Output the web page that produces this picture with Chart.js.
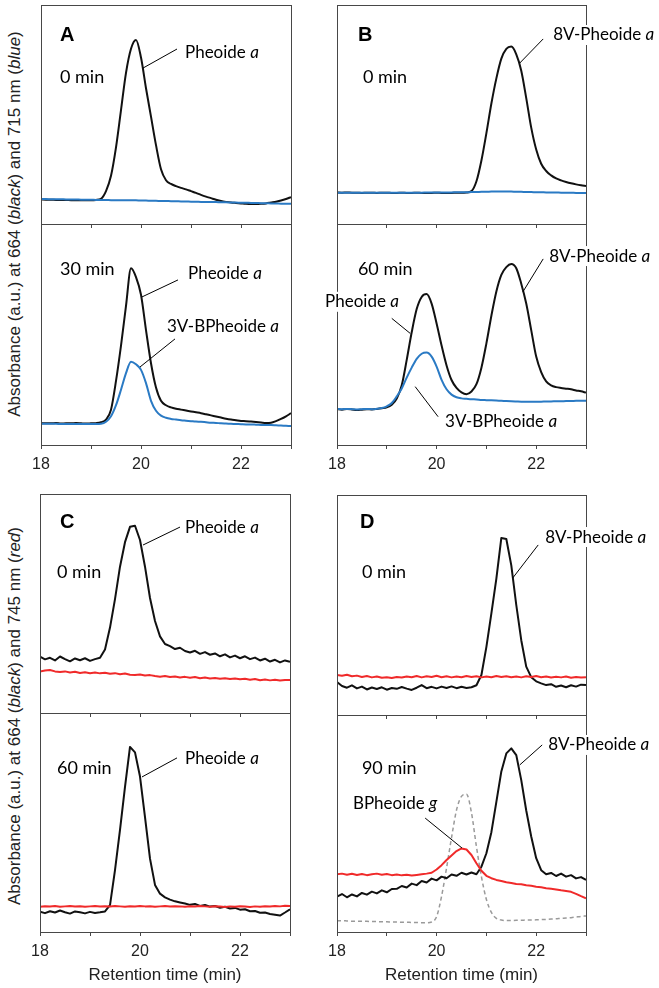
<!DOCTYPE html>
<html>
<head>
<meta charset="utf-8">
<script src="https://cdn.jsdelivr.net/npm/chart.js@4.4.1/dist/chart.umd.min.js"></script>
<style>
    body { margin: 0; background: #fff; }
    #page { position: relative; width: 659px; height: 988px; overflow: hidden; background: #fff; }
    #page canvas { position: absolute; }
    .ytitle {
        position: absolute;
        font: 17px "Liberation Sans", Arial, sans-serif;
        color: #222;
        white-space: nowrap;
        transform: translate(-50%, -50%) rotate(-90deg);
    }
</style>
</head>
<body>
<div id="page">
    <div class="ytitle" style="left:15px; top:224px">Absorbance (a.u.) at 664 (<i>black</i>) and 715 nm (<i>blue</i>)</div>
    <div class="ytitle" style="left:15px; top:716px">Absorbance (a.u.) at 664 (<i>black</i>) and 745 nm (<i>red</i>)</div>
</div>
<script>

// retention time (min)
const time = [
    18.0, 18.1, 18.2, 18.3, 18.4, 18.5, 18.6, 18.7, 18.8, 18.9,
    19.0, 19.1, 19.2, 19.3, 19.4, 19.5, 19.6, 19.7, 19.8, 19.9,
    20.0, 20.1, 20.2, 20.3, 20.4, 20.5, 20.6, 20.7, 20.8, 20.9,
    21.0, 21.1, 21.2, 21.3, 21.4, 21.5, 21.6, 21.7, 21.8, 21.9,
    22.0, 22.1, 22.2, 22.3, 22.4, 22.5, 22.6, 22.7, 22.8, 22.9,
    23.0
];
const xTickLabels = [18, 20, 22];

// A: 0 min / 30 min
const aTop664 = [
    11.2, 11.1, 11.1, 11.0, 11.0, 11.0, 10.9, 10.9, 10.9, 10.9,
    10.9, 11.0, 11.5, 15, 22, 35, 52, 69, 80, 84,
    76, 62, 49, 36, 25, 20, 18.3, 17.3, 16.5, 15.8,
    15, 14.2, 13.3, 12.5, 11.8, 11.1, 10.5, 10.1, 9.8, 9.6,
    9.4, 9.2, 9.1, 9.1, 9.2, 9.4, 9.8, 10.2, 10.7, 11.4,
    12.3
];
const aTop715 = [
    11.4, 11.4, 11.3, 11.3, 11.3, 11.2, 11.2, 11.2, 11.1, 11.1,
    11.1, 11.0, 11.0, 11.0, 10.9, 10.9, 10.9, 10.8, 10.8, 10.8,
    10.7, 10.7, 10.6, 10.6, 10.5, 10.5, 10.4, 10.4, 10.3, 10.3,
    10.2, 10.2, 10.1, 10.1, 10.0, 10.0, 9.9, 9.9, 9.8, 9.8,
    9.7, 9.7, 9.6, 9.6, 9.5, 9.5, 9.4, 9.4, 9.3, 9.3,
    9.2
];
const aBot664 = [
    9.9, 9.8, 9.8, 9.9, 9.7, 9.8, 9.8, 9.9, 9.8, 9.7,
    9.8, 9.9, 10.3, 11.5, 16, 29, 45, 63, 80, 76,
    68, 52, 37, 26, 20, 18, 17, 16.4, 16, 15.6,
    15.2, 14.8, 14.4, 13.9, 13.4, 12.9, 12.4, 11.9, 11.5, 11.2,
    10.9, 10.8, 10.6, 10.4, 10.2, 10.0, 10.1, 10.8, 11.8, 13,
    14.4
];
const aBot715 = [
    9.6, 9.6, 9.6, 9.6, 9.5, 9.5, 9.5, 9.5, 9.5, 9.5,
    9.5, 9.5, 9.6, 10.5, 13, 18, 25, 32.5, 37.7, 36.5,
    34, 28, 20, 15.5, 13.3, 12.3, 11.8, 11.5, 11.2, 11,
    10.8, 10.6, 10.5, 10.3, 10.1, 10, 9.8, 9.7, 9.6, 9.5,
    9.4, 9.3, 9.3, 9.2, 9.1, 9.0, 9.0, 8.9, 8.8, 8.7,
    8.6
];

// B: 0 min / 60 min
const bTop664 = [
    14.4, 14.3, 14.4, 14.3, 14.3, 14.2, 14.3, 14.3, 14.2, 14.3,
    14.3, 14.2, 14.2, 14.3, 14.2, 14.2, 14.3, 14.2, 14.2, 14.2,
    14.3, 14.2, 14.2, 14.2, 14.3, 14.3, 14.4, 15, 19.5, 29,
    41.5, 55, 66.5, 75.5, 80, 81, 77.5, 70, 57.5, 44,
    34, 27.5, 24.2, 22.2, 20.8, 19.9, 19.2, 18.6, 18.1, 17.7,
    17.4
];
const bTop715 = [
    14.3, 14.3, 14.3, 14.3, 14.3, 14.3, 14.3, 14.3, 14.3, 14.3,
    14.3, 14.3, 14.3, 14.3, 14.3, 14.3, 14.3, 14.3, 14.4, 14.4,
    14.4, 14.4, 14.4, 14.4, 14.5, 14.5, 14.5, 14.6, 14.6, 14.7,
    14.7, 14.8, 14.8, 14.8, 14.8, 14.8, 14.7, 14.7, 14.6, 14.6,
    14.5, 14.5, 14.4, 14.4, 14.4, 14.3, 14.3, 14.3, 14.2, 14.2,
    14.1
];
const bBot664 = [
    16.2, 16.0, 16.3, 16.1, 15.8, 16.0, 16.2, 16.1, 16.3, 16.6,
    17, 18.2, 21, 27, 38.5, 51, 61.5, 67, 68.3, 64,
    55, 45, 36, 29.4, 25.8, 23.8, 23, 24.2, 27.5, 35,
    46, 58.5, 69.5, 77, 80.5, 81.9, 80, 73, 64, 52,
    40, 33, 28.8, 27, 26.2, 25.8, 25.5, 25.2, 24.7, 24.3,
    23.7
];
const bBot715 = [
    16.3, 16.2, 16.3, 16.2, 16.1, 16.2, 16.3, 16.2, 16.4, 16.7,
    17.5, 19, 22, 25.6, 30.5, 35, 39, 41.3, 41.8, 40,
    35.5, 29.5, 25.2, 22.8, 21.6, 21.1, 20.9, 20.7, 20.6, 20.4,
    20.3, 20.2, 20.1, 20, 19.9, 19.8, 19.7, 19.6, 19.6, 19.6,
    19.6, 19.6, 19.7, 19.7, 19.8, 19.8, 19.9, 19.9, 20, 20,
    20
];

// C: 0 min / 60 min
const cTop664 = [
    25.7, 24.5, 25.2, 24.0, 25.8, 24.6, 23.6, 24.9, 24.1, 25.0,
    23.8, 24.6, 25.2, 29, 39, 52, 66.8, 78, 85, 85.5,
    79, 66.8, 52.5, 42, 35, 31.5, 30.5, 29.2, 29.8, 28.3,
    27.6, 28.4, 27.0, 27.8, 26.6, 27.2, 25.9, 26.8, 25.4, 26.2,
    25.0, 25.9, 24.6, 25.3, 24.0, 24.8, 23.5, 24.3, 23.1, 24.0,
    23.4
];
const cTop745 = [
    18.9, 19.4, 19.6, 19.0, 18.7, 19.0, 18.5, 18.8, 18.3, 18.6,
    18.2, 18.5, 18.1, 18.4, 17.9, 18.2, 17.7, 18.0, 17.5, 17.3,
    17.6, 17.1, 17.3, 16.9, 16.6, 16.9, 16.4, 16.7, 16.2, 16.5,
    16.1, 16.4, 15.9, 16.2, 15.8, 16.0, 15.6, 15.9, 15.5, 15.8,
    15.4, 15.6, 15.2, 15.5, 15.0, 15.3, 14.9, 15.2, 14.8, 15.1,
    15.1
];
const cBot664 = [
    9.3, 8.6, 9.5, 8.9, 9.8, 9.0, 8.4, 9.4, 9.0, 8.5,
    9.2, 8.7, 9.0, 9.4, 12.3, 28.3, 46.6, 66.3, 84.5, 82,
    71, 52.5, 33.5, 21.5, 17.5, 15.8, 14.8, 14.0, 13.5, 13.0,
    12.4, 12.8, 11.9, 12.3, 11.6, 11.9, 11.1, 11.5, 10.7, 11.0,
    10.2, 10.4, 9.5, 9.6, 8.8, 8.9, 8.2, 7.9, 7.5, 8.9,
    10.4
];
const cBot745 = [
    11.5, 11.8, 11.6, 11.9, 11.5, 11.7, 11.9, 11.6, 11.8, 11.5,
    11.7, 11.9, 11.6, 11.8, 11.6, 11.9, 11.7, 11.5, 11.8, 11.6,
    11.9, 11.7, 11.8, 11.5, 11.7, 11.9, 11.6, 11.8, 11.7, 11.5,
    11.8, 11.6, 11.9, 11.7, 11.5, 11.8, 11.6, 11.4, 11.7, 11.5,
    11.8, 11.6, 11.4, 11.7, 11.5, 11.8, 11.6, 11.9, 11.7, 12.0,
    11.9
];

// D: 0 min / 90 min
const dTop664 = [
    15.0, 13.2, 12.4, 13.5, 12.1, 12.9, 11.6, 12.5, 11.8, 12.6,
    11.5, 12.3, 11.9, 12.7, 12.0, 11.4, 12.4, 13.6, 12.2, 12.8,
    12.1, 12.9, 12.3, 13.0, 12.2, 12.8, 12.3, 12.6, 13.5, 18.2,
    31, 46.2, 62, 80.5, 80, 68, 50, 34, 22, 17.2,
    15.3, 14.4, 13.6, 14.0, 12.8, 13.4, 12.6, 13.5, 12.9, 13.8,
    13.6
];
const dTop745 = [
    18.2, 17.8, 18.3, 17.6, 17.9, 17.3, 17.7, 17.1, 17.5, 16.9,
    17.2, 16.8, 17.3, 17.0, 17.5, 17.2, 17.7, 17.1, 17.6, 17.3,
    17.8, 17.2, 17.6, 17.1, 17.5, 17.2, 17.7, 17.3, 17.6, 17.1,
    17.5, 17.2, 17.7, 17.3, 17.6, 17.2, 17.5, 17.1, 17.6, 17.3,
    17.7, 17.2, 17.5, 17.0, 17.4, 17.1, 17.5, 16.9, 17.3, 17.0,
    17.2
];
const dBot664 = [
    16.3, 17.5, 16.0, 17.3, 16.4, 18.0, 17.2, 18.6, 17.8, 19.2,
    18.3, 19.8, 19.9, 21.2, 20.5, 22.3, 21.6, 23.5, 22.8, 24.6,
    23.8, 25.5, 24.8, 26.5, 25.9, 27.3, 26.5, 27.4, 26.6, 30.1,
    36.3, 46, 60, 74, 82.3, 84.6, 81.5, 70, 56, 44,
    34, 28.5, 26.6, 27.2, 25.8, 26.9, 25.5, 26.2, 24.7, 25.3,
    24.0
];
const dBot745 = [
    26.6, 26.9, 26.4, 26.8, 26.3, 26.7, 26.2, 26.6, 26.9, 26.4,
    26.7, 26.2, 26.5, 26.1, 26.4, 26.0, 26.3, 26.6, 26.9, 27.3,
    28.8, 30.8, 33.2, 35.3, 37.3, 38.5, 38.0, 35.5, 31.7, 28.2,
    25.9, 24.8, 24.0, 23.5, 22.9, 22.6, 22.1, 22.0, 21.5, 21.3,
    20.9, 20.6, 20.2, 19.9, 19.6, 19.2, 18.9, 18.5, 17.6, 16.5,
    15.5
];
const dBotStd = [
    5.2, 5.2, 5.1, 5.0, 5.0, 4.9, 4.9, 4.8, 4.8, 4.7,
    4.7, 4.6, 4.6, 4.5, 4.5, 4.4, 4.4, 4.3, 4.3, 4.6,
    7.1, 16.5, 29.5, 43.5, 56.2, 62.5, 63.5, 55, 39.3, 25.5,
    15, 9, 6.3, 5.5, 5.3, 5.3, 5.4, 5.4, 5.5, 5.5,
    5.6, 5.7, 5.8, 6.0, 6.1, 6.3, 6.4, 6.6, 6.9, 7.2,
    7.4
];


const BLACK = "#111111";
const BLUE = "#2a7ac4";
const RED = "#f02a2a";
const GREY = "#9a9a9a";
const FRAME = "#474747";

const PADL = 30, PADR = 72, PADT = 4;

const panels = [
    {
        box: [41, 5, 291, 224], lower: false,
        series: [{ values: aTop715, color: BLUE }, { values: aTop664, color: BLACK }],
        notes: [
            { kind: "letter", text: "A", t: 18.38, v: 86.3 },
            { kind: "time", text: "0 min", t: 18.38, v: 67.1 },
            { kind: "label", text: "Pheoide ", em: "a", t: 20.88, v: 78.5, from: [20.72, 79.9], to: [20.04, 71.2] }
        ]
    },
    {
        box: [41, 224, 291, 445], lower: true,
        series: [{ values: aBot715, color: BLUE }, { values: aBot664, color: BLACK }],
        notes: [
            { kind: "time", text: "30 min", t: 18.38, v: 79.6 },
            { kind: "label", text: "Pheoide ", em: "a", t: 20.94, v: 77.8, from: [20.74, 74.7], to: [20.02, 67] },
            { kind: "label", text: "3V-BPheoide ", em: "a", t: 20.52, v: 53.4, from: [20.68, 48], to: [19.98, 35.3] }
        ]
    },
    {
        box: [337, 5, 586, 224], lower: false,
        series: [{ values: bTop715, color: BLUE }, { values: bTop664, color: BLACK }],
        notes: [
            { kind: "letter", text: "B", t: 18.42, v: 86.3 },
            { kind: "time", text: "0 min", t: 18.52, v: 67.1 },
            { kind: "label", text: "8V-Pheoide ", em: "a", t: 22.34, v: 86.3, from: [22.14, 84.5], to: [21.67, 73.5] }
        ]
    },
    {
        box: [337, 224, 586, 445], lower: true,
        series: [{ values: bBot715, color: BLUE }, { values: bBot664, color: BLACK }],
        notes: [
            { kind: "time", text: "60 min", t: 18.42, v: 79.6 },
            { kind: "label", text: "8V-Pheoide ", em: "a", t: 22.26, v: 85.5, from: [22.14, 84.2], to: [21.73, 69.2] },
            { kind: "label", text: "Pheoide ", em: "a", t: 17.76, v: 64.8, from: [19.10, 57.3], to: [19.47, 50.5] },
            { kind: "label", text: "3V-BPheoide ", em: "a", t: 20.17, v: 10.5, from: [20.03, 12.8], to: [19.57, 26.4] }
        ]
    },
    {
        box: [40, 494, 290, 713], lower: false,
        series: [{ values: cTop745, color: RED, noisy: true }, { values: cTop664, color: BLACK, noisy: true }],
        notes: [
            { kind: "letter", text: "C", t: 18.4, v: 86.8 },
            { kind: "time", text: "0 min", t: 18.34, v: 64.4 },
            { kind: "label", text: "Pheoide ", em: "a", t: 20.9, v: 84.5, from: [20.8, 84.9], to: [20.06, 76.7] }
        ]
    },
    {
        box: [40, 713, 290, 932], lower: true, title: "Retention time (min)",
        series: [{ values: cBot745, color: RED, noisy: true }, { values: cBot664, color: BLACK, noisy: true }],
        notes: [
            { kind: "time", text: "60 min", t: 18.34, v: 74.9 },
            { kind: "label", text: "Pheoide ", em: "a", t: 20.9, v: 79, from: [20.74, 79.5], to: [20.04, 70.8] }
        ]
    },
    {
        box: [337, 495, 586, 715], lower: false,
        series: [{ values: dTop745, color: RED, noisy: true }, { values: dTop664, color: BLACK, noisy: true }],
        notes: [
            { kind: "letter", text: "D", t: 18.46, v: 87.3 },
            { kind: "time", text: "0 min", t: 18.5, v: 65 },
            { kind: "label", text: "8V-Pheoide ", em: "a", t: 22.18, v: 80.9, from: [22.04, 77.3], to: [21.53, 62.3] }
        ]
    },
    {
        box: [337, 715, 586, 932], lower: true, title: "Retention time (min)",
        series: [
            { values: dBot745, color: RED, noisy: true },
            { values: dBot664, color: BLACK, noisy: true },
            { values: dBotStd, color: GREY, width: 1.5, dash: [4, 3] }
        ],
        notes: [
            { kind: "time", text: "90 min", t: 18.5, v: 75.6 },
            { kind: "label", text: "8V-Pheoide ", em: "a", t: 22.24, v: 86.2, from: [22.12, 86.2], to: [21.67, 77] },
            { kind: "label", text: "BPheoide ", em: "g", t: 18.32, v: 59.4, from: [19.77, 52.5], to: [20.51, 38.7] }
        ]
    }
];



function notesPlugin(notes) {

    return {
        id: "notes",
        afterDraw(chart) {
            const ctx = chart.ctx;
            const area = chart.chartArea;
            const x = chart.scales.x;
            const y = chart.scales.y;

            ctx.save();
            ctx.strokeStyle = FRAME;
            ctx.lineWidth = 1;
            ctx.strokeRect(Math.round(area.left) + 0.5, Math.round(area.top) + 0.5,
                Math.round(area.right - area.left), Math.round(area.bottom - area.top));

            ctx.textBaseline = "middle";
            ctx.textAlign = "left";

            notes.forEach(n => {
                const px = x.getPixelForValue(n.t);
                const py = y.getPixelForValue(n.v);

                if (n.kind === "letter") {
                    ctx.fillStyle = "#000";
                    ctx.font = "bold 20px 'Liberation Sans', Arial, sans-serif";
                    ctx.fillText(n.text, px, py);
                } else if (n.kind === "time") {
                    ctx.fillStyle = "#000";
                    ctx.font = "18px Lato, 'Open Sans', sans-serif";
                    ctx.fillText(n.text, px, py);
                } else {
                    ctx.font = "17px Lato, 'Open Sans', sans-serif";
                    const w1 = ctx.measureText(n.text).width;
                    ctx.font = "italic 17px Lato, 'Open Sans', sans-serif";
                    const w2 = ctx.measureText(n.em).width;

                    ctx.fillStyle = "#fff";
                    ctx.fillRect(px - 2, py - 10, w1 + w2 + 4, 20);

                    ctx.fillStyle = "#000";
                    ctx.font = "17px Lato, 'Open Sans', sans-serif";
                    ctx.fillText(n.text, px, py);
                    ctx.font = "italic 17px Lato, 'Open Sans', sans-serif";
                    ctx.fillText(n.em, px + w1, py);

                    ctx.strokeStyle = "#000";
                    ctx.lineWidth = 1;
                    ctx.beginPath();
                    ctx.moveTo(x.getPixelForValue(n.from[0]), y.getPixelForValue(n.from[1]));
                    ctx.lineTo(x.getPixelForValue(n.to[0]), y.getPixelForValue(n.to[1]));
                    ctx.stroke();
                }
            });

            ctx.restore();
        }
    };

}



function createPanel(p) {

    const [left, top, right, bottom] = p.box;
    const axisHeight = p.title ? 56 : (p.lower ? 30 : 6);

    const canvas = document.createElement("canvas");
    canvas.width = (right - left) + PADL + PADR;
    canvas.height = (bottom - top) + PADT + axisHeight;
    canvas.style.left = (left - PADL) + "px";
    canvas.style.top = (top - PADT) + "px";
    document.getElementById("page").appendChild(canvas);

    // raw detector traces are drawn point to point, the cleaner ones smoothed
    const datasets = p.series.map(s => ({
        data: time.map((t, i) => ({ x: t, y: s.values[i] })),
        borderColor: s.color,
        borderWidth: s.width || 2,
        borderDash: s.dash || [],
        borderJoinStyle: "round",
        pointRadius: 0,
        tension: 0,
        cubicInterpolationMode: s.noisy ? "default" : "monotone",
        fill: false
    }));

    new Chart(canvas, {

        type: "line",

        data: { datasets: datasets },

        options: {
            responsive: false,
            animation: false,
            events: [],
            layout: { padding: { left: PADL, right: PADR, top: PADT, bottom: 0 } },
            plugins: {
                legend: { display: false },
                tooltip: { enabled: false }
            },
            scales: {
                x: {
                    type: "linear",
                    min: 18,
                    max: 23,
                    afterFit: scale => { scale.height = axisHeight; },
                    border: { display: false },
                    grid: { drawOnChartArea: false, drawTicks: true, tickLength: 4, color: FRAME },
                    ticks: {
                        display: p.lower,
                        stepSize: 1,
                        autoSkip: false,
                        maxRotation: 0,
                        padding: 6,
                        color: "#222",
                        font: { family: "'Liberation Sans', Arial, sans-serif", size: 16 },
                        callback: v => xTickLabels.includes(v) ? String(v) : ""
                    },
                    title: {
                        display: !!p.title,
                        text: p.title || "",
                        color: "#222",
                        padding: { top: 0, bottom: 2 },
                        font: { family: "'Liberation Sans', Arial, sans-serif", size: 17 }
                    }
                },
                y: { display: false, min: 0, max: 100 }
            }
        },

        plugins: [notesPlugin(p.notes)]

    });

}



panels.forEach(createPanel);

</script>
</body>
</html>
